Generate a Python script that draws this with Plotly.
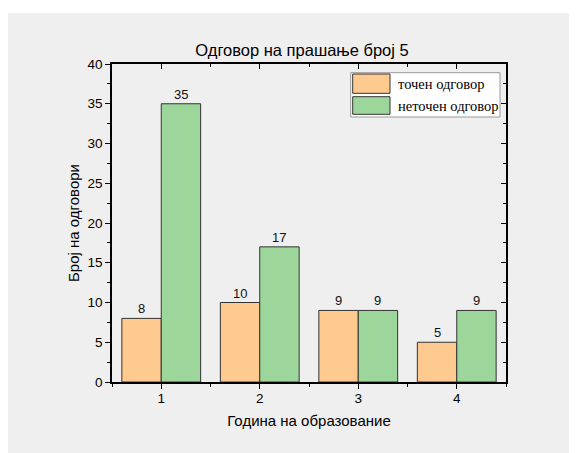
import plotly.graph_objects as go

categories = [1, 2, 3, 4]
tick_labels = ["1", "2", "3", "4"]
correct = [8, 10, 9, 5]
incorrect = [35, 17, 9, 9]
series_names = ["точен одговор", "неточен одговор"]
title_text = "Одговор на прашање број 5"
x_title = "Година на образование"
y_title = "Број на одговори"

# page has an 8px body margin; work in screenshot coordinates and shift
OFF = 8
W, H = 577 - OFF, 453 - OFF
L, R, T, B = 112 - OFF, 506 - OFF, 64 - OFF, 382 - OFF
PW, PH = R - L, B - T

def px(x):
    return (x - OFF - L) / PW

def py(y):
    return (B - (y - OFF)) / PH

orange = "#FFCA90"
green = "#9CD69B"
bg = "#efefef"
font_sans = "Liberation Sans, Arial, sans-serif"
font_serif = "Liberation Serif, Times New Roman, serif"

fig = go.Figure()
fig.add_trace(go.Bar(x=categories, y=correct, name=series_names[0],
                     marker=dict(color=orange, line=dict(color="#333333", width=1))))
fig.add_trace(go.Bar(x=categories, y=incorrect, name=series_names[1],
                     marker=dict(color=green, line=dict(color="#333333", width=1))))
# dummy trace to activate mirrored axes
fig.add_trace(go.Scatter(x=[None], y=[None], xaxis="x2", yaxis="y2",
                         showlegend=False, hoverinfo="skip"))

# value labels above bars (bar centres offset by half a bar width: 0.2)
for series, shift in ((correct, -0.2), (incorrect, 0.2)):
    for c, v in zip(categories, series):
        fig.add_annotation(x=c + shift, y=v, xref="x", yref="y", text=str(v),
                           showarrow=False, yanchor="bottom", yshift=0,
                           font=dict(family=font_sans, size=13, color="#111"))

axis_common = dict(showline=True, linecolor="black", linewidth=1.5,
                   showgrid=False, zeroline=False, ticklen=5, tickwidth=1.2,
                   tickcolor="black")

fig.update_layout(
    width=W, height=H,
    margin=dict(l=L, r=W - R, t=T, b=H - B),
    paper_bgcolor=bg, plot_bgcolor=bg,
    barmode="group", bargap=0.2, bargroupgap=0,
    showlegend=False,
    title=dict(text=title_text, x=px(302), xref="paper", xanchor="center",
               y=1 - (50 - OFF) / H, yref="container", yanchor="middle",
               font=dict(family=font_sans, size=16.5, color="black")),
    xaxis=dict(range=[0.5, 4.5], tickmode="array", tickvals=categories,
               ticktext=tick_labels, ticks="outside", ticklabelstandoff=-2,
               minor=dict(tickmode="linear", tick0=0.5, dtick=0.5, ticks="outside",
                          ticklen=3, tickcolor="black", tickwidth=1.2),
               tickfont=dict(family=font_sans, size=13.5, color="black"),
               title=dict(text=x_title, font=dict(family=font_sans, size=15, color="black"),
                          standoff=11),
               **axis_common),
    yaxis=dict(range=[0, 40], tick0=0, dtick=5, ticks="outside",
               minor=dict(tick0=0, dtick=2.5, ticks="outside", ticklen=3,
                          tickcolor="black", tickwidth=1.2),
               tickfont=dict(family=font_sans, size=13.5, color="black"),
               title=dict(text=y_title, font=dict(family=font_sans, size=15, color="black"),
                          standoff=4),
               **axis_common),
    xaxis2=dict(overlaying="x", side="top", anchor="y", range=[0.5, 4.5],
                tickmode="array", tickvals=categories, showticklabels=False,
                ticks="inside",
                minor=dict(tickmode="linear", tick0=0.5, dtick=0.5, ticks="inside",
                           ticklen=3, tickcolor="black", tickwidth=1.2),
                **axis_common),
    yaxis2=dict(overlaying="y", side="right", anchor="x", range=[0, 40],
                tick0=0, dtick=5, showticklabels=False, ticks="inside",
                minor=dict(tick0=0, dtick=2.5, ticks="inside", ticklen=3,
                           tickcolor="black", tickwidth=1.2),
                **axis_common),
)

shapes = [
    # white strip on top edge
    dict(type="rect", xref="paper", yref="paper", x0=px(0), x1=px(600), y0=py(13), y1=py(0),
         fillcolor="white", line=dict(width=0), layer="below"),
    # legend box
    dict(type="rect", xref="paper", yref="paper", x0=px(350.7), x1=px(500),
         y0=py(117), y1=py(72.7), fillcolor="white",
         line=dict(color="#999999", width=1), layer="above"),
    dict(type="rect", xref="paper", yref="paper", x0=px(352.7), x1=px(390),
         y0=py(93.3), y1=py(74), fillcolor=orange,
         line=dict(color="#333333", width=1), layer="above"),
    dict(type="rect", xref="paper", yref="paper", x0=px(352.7), x1=px(390),
         y0=py(114.3), y1=py(96.7), fillcolor=green,
         line=dict(color="#333333", width=1), layer="above"),
]
fig.update_layout(shapes=shapes)

fig.add_annotation(text=series_names[0], xref="paper", yref="paper", x=px(396),
                   y=py(83.5), xanchor="left", yanchor="middle", showarrow=False,
                   font=dict(family=font_serif, size=14.5, color="black"))
fig.add_annotation(text=series_names[1], xref="paper", yref="paper", x=px(396),
                   y=py(105.5), xanchor="left", yanchor="middle", showarrow=False,
                   font=dict(family=font_serif, size=14.5, color="black"))

fig.write_html("out.html")
